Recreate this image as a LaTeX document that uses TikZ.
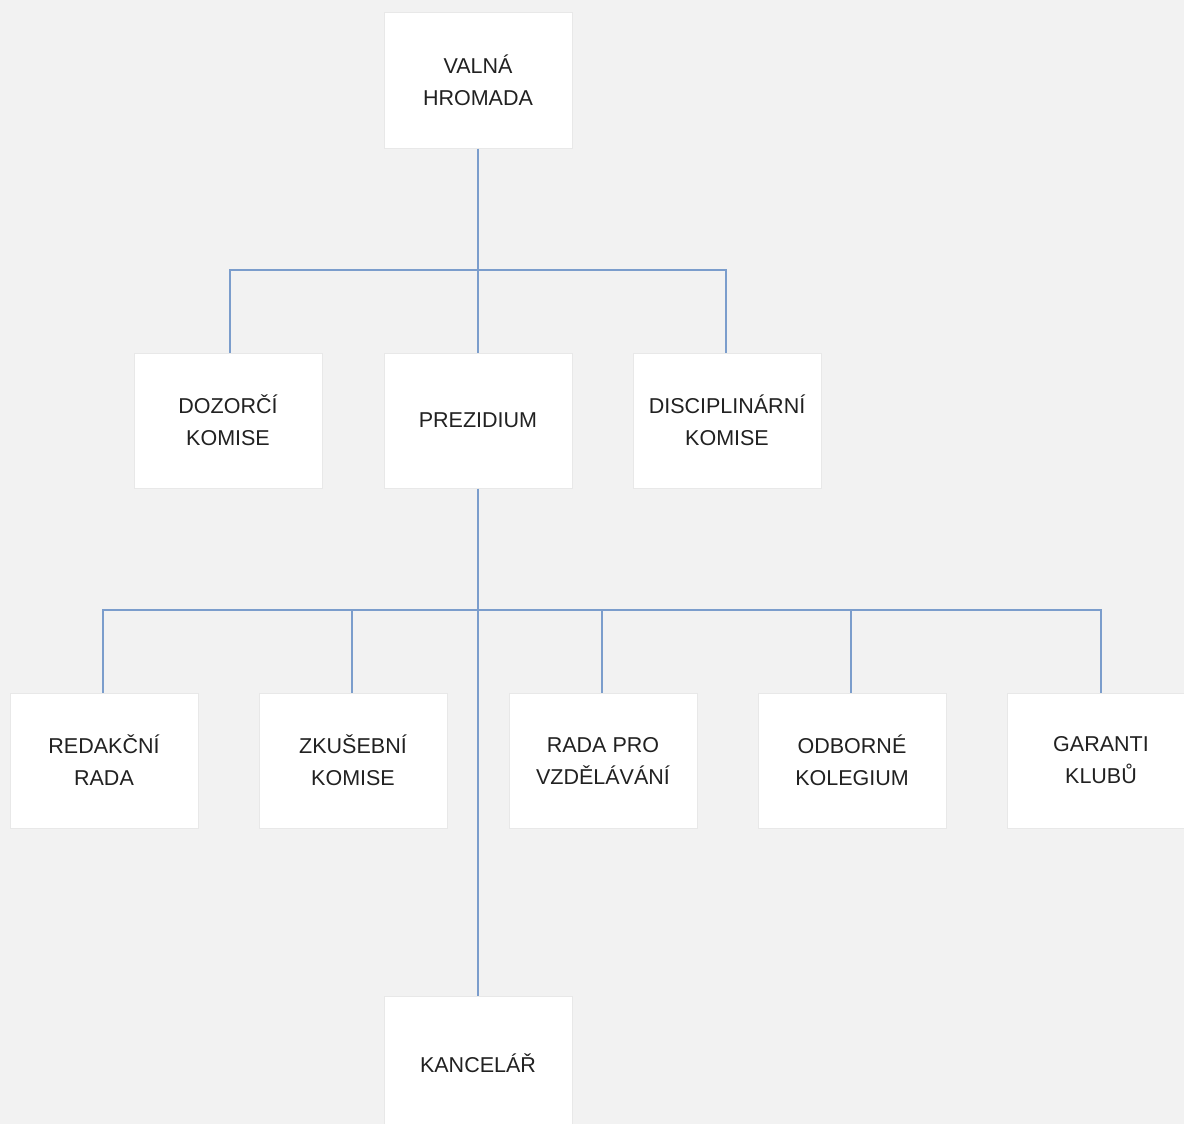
\documentclass[tikz,border=0pt]{standalone}
\usepackage{fontspec}
\setmainfont{Liberation Sans}
\begin{document}
\begin{tikzpicture}[x=1pt,y=-1pt,
  box/.style={draw=black!9,line width=1pt,fill=white,minimum width=188pt,minimum height=135pt,inner sep=0pt,align=center,text=black!87,font=\fontsize{21.5}{32}\selectfont},
  conn/.style={draw={rgb,255:red,123;green,157;blue,204},line width=1.8pt}]
\fill[black!5] (0,0) rectangle (1184,1124);
\useasboundingbox (0,0) rectangle (1184,1124);
\coordinate (j1) at (478,270);
\coordinate (j2) at (478,610);
\begin{scope}[on background layer/.style={}]
\end{scope}
% connectors first (drawn under boxes)
\path (478,80.5) node[box] (valna) {VALNÁ\\HROMADA};
\path (228,420.5) node[box] (dozor) {DOZORČÍ\\KOMISE};
\path (478,420.5) node[box] (prez) {PREZIDIUM};
\path (727,420.5) node[box] (disc) {DISCIPLINÁRNÍ\\KOMISE};
\path (104,760.5) node[box] (red) {REDAKČNÍ\\RADA};
\path (353,760.5) node[box] (zk) {ZKUŠEBNÍ\\KOMISE};
\path (603,760.5) node[box] (rada) {RADA PRO\\VZDĚLÁVÁNÍ};
\path (852,760.5) node[box] (odb) {ODBORNÉ\\KOLEGIUM};
\path (1101,760.5) node[box] (gar) {GARANTI\\KLUBŮ};
\path (478,1063.5) node[box] (kanc) {KANCELÁŘ};
\draw[conn] (valna.south) -- (prez.north);
\draw[conn] ([xshift=2pt]dozor.north) |- (j1) -| ([xshift=-1pt]disc.north);
\draw[conn] (prez.south) -- (kanc.north);
\draw[conn] ([xshift=-1pt]red.north) |- (j2) -| (gar.north);
\draw[conn] ([xshift=-1pt]zk.north) -- ++(0,-83);
\draw[conn] ([xshift=-1pt]rada.north) -- ++(0,-83);
\draw[conn] ([xshift=-1pt]odb.north) -- ++(0,-83);
\end{tikzpicture}
\end{document}
